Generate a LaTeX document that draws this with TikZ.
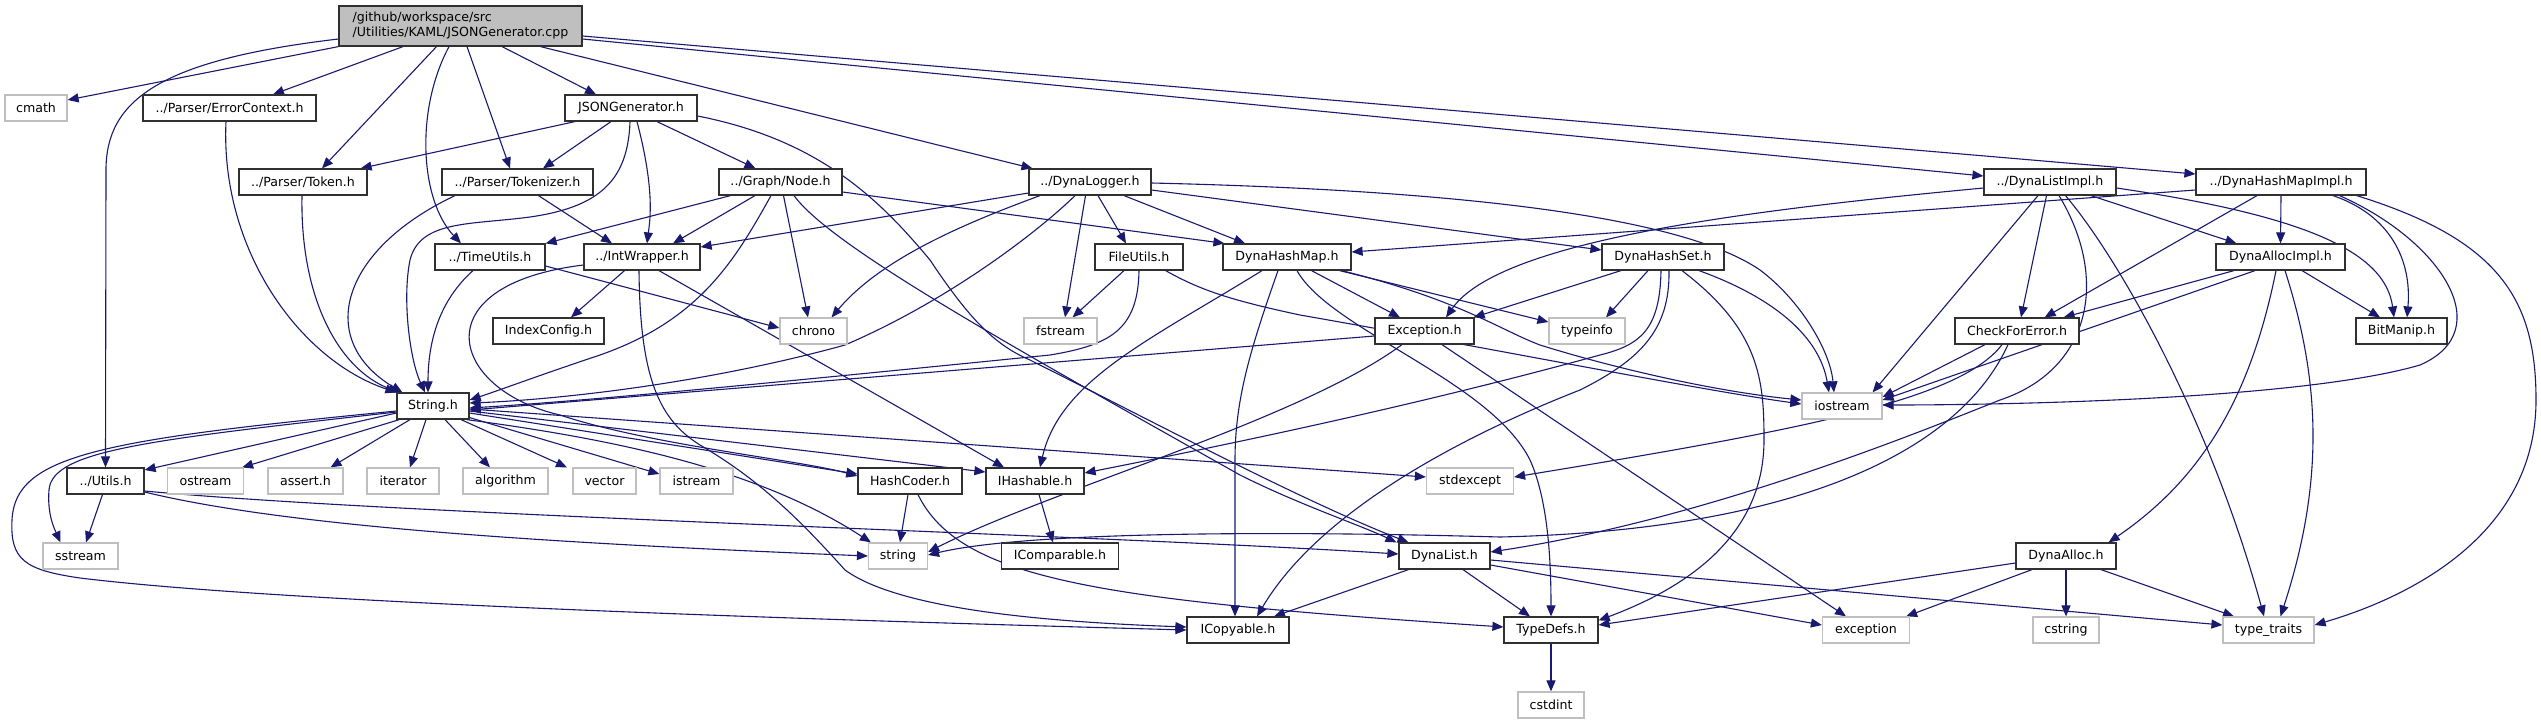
\documentclass[tikz,border=0pt]{standalone}
\usepackage{fontspec}
\setmainfont{DejaVu Sans}
\usetikzlibrary{calc,arrows.meta}
\definecolor{edgec}{RGB}{25,25,112}
\definecolor{sysc}{RGB}{191,191,191}
\definecolor{nodec}{RGB}{48,48,48}
\definecolor{rootc}{RGB}{191,191,191}
\newcommand{\fsz}{\fontsize{12.6}{15}\selectfont}
\pgfdeclarelayer{bglayer}
\pgfdeclarelayer{edgelayer}
\pgfsetlayers{bglayer,edgelayer,main}
\tikzset{
  box/.style={draw=nodec, line width=1.2pt, fill=white, minimum height=26pt, inner sep=0pt, font=\fsz, text=black},
  sys/.style={box, draw=sysc},
  e/.style={draw=edgec, line width=1.1pt, -{Triangle[length=11pt,width=9pt]}}
}
\begin{document}
\begin{tikzpicture}[x=1pt,y=-1pt]
\begin{pgfonlayer}{bglayer}
\path[use as bounding box, fill=white] (0,0) rectangle (2541,724);
\end{pgfonlayer}
% nodes
\node[box, fill=rootc, minimum width=243pt, minimum height=40pt, align=left] (root) at (460.5,26) {/github/workspace/src\\/Utilities/KAML/JSONGenerator.cpp};
\node[sys, minimum width=62pt] (cmath) at (36,108) {cmath};
\node[box, minimum width=173pt] (errctx) at (229.5,108) {../Parser/ErrorContext.h};
\node[box, minimum width=132pt] (jsonh) at (631,108) {JSONGenerator.h};
\node[box, minimum width=128pt] (token) at (303,182) {../Parser/Token.h};
\node[box, minimum width=151pt] (tokenizer) at (517.5,182) {../Parser/Tokenizer.h};
\node[box, minimum width=123pt] (node) at (780.5,182) {../Graph/Node.h};
\node[box, minimum width=122pt] (logger) at (1090,182) {../DynaLogger.h};
\node[box, minimum width=132pt] (listimpl) at (2050,182) {../DynaListImpl.h};
\node[box, minimum width=170pt] (hmimpl) at (2281,182) {../DynaHashMapImpl.h};
\node[box, minimum width=110pt] (timeu) at (490,257) {../TimeUtils.h};
\node[box, minimum width=116pt] (intw) at (642,257) {../IntWrapper.h};
\node[box, minimum width=88pt] (fileu) at (1139,257) {FileUtils.h};
\node[box, minimum width=128pt] (hmap) at (1287,257) {DynaHashMap.h};
\node[box, minimum width=122pt] (hset) at (1663,257) {DynaHashSet.h};
\node[box, minimum width=129pt] (allocimpl) at (2280.5,257) {DynaAllocImpl.h};
\node[box, minimum width=111pt] (idxcfg) at (548.5,331) {IndexConfig.h};
\node[sys, minimum width=67pt] (chrono) at (813.5,331) {chrono};
\node[sys, minimum width=73pt] (fstream) at (1060.5,331) {fstream};
\node[box, minimum width=99pt] (exc) at (1424.5,331) {Exception.h};
\node[sys, minimum width=76pt] (typeinfo) at (1587,331) {typeinfo};
\node[box, minimum width=124pt] (cfe) at (2017,331) {CheckForError.h};
\node[box, minimum width=91pt] (bitm) at (2401.5,331) {BitManip.h};
\node[box, minimum width=72pt] (str) at (433,406) {String.h};
\node[sys, minimum width=80pt] (iostream) at (1842,406) {iostream};
\node[box, minimum width=77pt] (utils) at (105.5,481) {../Utils.h};
\node[sys, minimum width=76pt] (ostream) at (205.5,481) {ostream};
\node[sys, minimum width=75pt] (assert) at (305.5,481) {assert.h};
\node[sys, minimum width=72pt] (iterator) at (403,481) {iterator};
\node[sys, minimum width=85pt] (algorithm) at (505.5,481) {algorithm};
\node[sys, minimum width=63pt] (vector) at (604.5,481) {vector};
\node[sys, minimum width=73pt] (istream) at (696.5,481) {istream};
\node[box, minimum width=104pt] (hcoder) at (910,481) {HashCoder.h};
\node[box, minimum width=98pt] (ihash) at (1035,481) {IHashable.h};
\node[sys, minimum width=87pt] (stdexc) at (1470,481) {stdexcept};
\node[sys, minimum width=75pt] (sstream) at (80.5,556) {sstream};
\node[sys, minimum width=59pt] (string) at (898,556) {string};
\node[box, minimum width=117pt] (icomp) at (1060,556) {IComparable.h};
\node[box, minimum width=91pt] (dlist) at (1444.5,556) {DynaList.h};
\node[box, minimum width=100pt] (dalloc) at (2066,556) {DynaAlloc.h};
\node[box, minimum width=102pt] (icopy) at (1238,630) {ICopyable.h};
\node[box, minimum width=94pt] (tdefs) at (1551,630) {TypeDefs.h};
\node[sys, minimum width=87pt] (exception) at (1866,630) {exception};
\node[sys, minimum width=66pt] (cstring) at (2066,630) {cstring};
\node[sys, minimum width=91pt] (ttraits) at (2268.5,630) {type\_traits};
\node[sys, minimum width=66pt] (cstdint) at (1551,705) {cstdint};
\begin{pgfonlayer}{edgelayer}
% edges from root
\draw[e] (root.south west) -- ($(cmath.east)+(0,-8)$);
\draw[e] ($(root.west)+(0,13)$) .. controls (160,60) and (106,100) .. (106,170) -- (utils.north);
\draw[e] ($(root.south)+(-57.5,0)$) -- ($(errctx.north)+(43.5,0)$);
\draw[e] ($(root.south)+(-24,0)$) -- ($(token.north)+(19,0)$);
\draw[e] ($(root.south)+(-11.5,0)$) .. controls (415,110) and (420,200) .. ($(timeu.north)+(-29,0)$);
\draw[e] ($(root.south)+(6.5,0)$) -- ($(tokenizer.north)+(-7.5,0)$);
\draw[e] ($(root.south)+(41.5,0)$) -- ($(jsonh.north)+(-35,0)$);
\draw[e] ($(root.south)+(80,0)$) -- ($(logger.north)+(-57.5,0)$);
\draw[e] ($(root.east)+(0,13)$) -- ($(listimpl.west)+(0,-6)$);
\draw[e] ($(root.east)+(0,10)$) -- ($(hmimpl.west)+(0,-8)$);
% parser
\draw[e] ($(errctx.south)+(-3.5,0)$) .. controls (220,250) and (300,360) .. (str.north west);
\draw[e] ($(token.south)+(-1,0)$) .. controls (300,300) and (340,370) .. ($(str.north west)+(3,0)$);
\draw[e] ($(tokenizer.south)+(-62.5,0)$) .. controls (340,250) and (315,340) .. ($(str.north west)+(6,0)$);
\draw[e] ($(tokenizer.south)+(21,0)$) -- ($(intw.north)+(-30,0)$);
% JSONGenerator.h
\draw[e] ($(jsonh.south)+(-56,0)$) -- ($(token.north east)+(-7,0)$);
\draw[e] ($(jsonh.south)+(-20,0)$) -- ($(tokenizer.north)+(25.5,0)$);
\draw[e] ($(jsonh.south)+(-1,0)$) .. controls (628,180) and (600,207) .. (530,217) .. controls (470,225) and (420,220) .. (410,260) .. controls (402,300) and (410,360) .. ($(str.north)+(-8,0)$);
\draw[e] ($(jsonh.south)+(6,0)$) .. controls (655,190) and (650,220) .. ($(intw.north)+(5,0)$);
\draw[e] ($(jsonh.south)+(26,0)$) -- ($(node.north)+(-25,0)$);
\draw[e] ($(jsonh.east)+(0,8)$) .. controls (820,140) and (880,200) .. (930,260) .. controls (970,320) and (995,345) .. (1030,360) .. controls (1150,420) and (1300,500) .. ($(dlist.north)+(-36,0)$);
% Node.h
\draw[e] ($(node.south)+(-50,0)$) -- (timeu.north east);
\draw[e] ($(node.south)+(-25.5,0)$) -- ($(intw.north)+(31,0)$);
\draw[e] ($(node.south)+(-9.5,0)$) .. controls (735,260) and (700,320) .. (600,355) .. controls (540,375) and (500,390) .. ($(str.east)+(0,-6)$);
\draw[e] ($(node.south)+(3,0)$) -- ($(chrono.north)+(-5.5,0)$);
\draw[e] ($(node.south)+(13.5,0)$) .. controls (830,245) and (1000,340) .. (1240,475) .. controls (1300,505) and (1360,525) .. ($(dlist.north)+(-48,0)$);
\draw[e] ($(node.east)+(0,10)$) -- ($(hmap.north west)+(2,0)$);
% DynaLogger.h
\draw[e] ($(logger.west)+(0,11)$) -- ($(intw.east)+(0,-10)$);
\draw[e] ($(logger.south)+(-15,0)$) .. controls (1040,230) and (950,300) .. (845,345) .. controls (700,385) and (550,400) .. ($(str.east)+(0,-3)$);
\draw[e] ($(logger.south)+(-50,0)$) .. controls (960,225) and (880,260) .. ($(chrono.north)+(18,0)$);
\draw[e] ($(logger.south)+(-4.5,0)$) -- ($(fstream.north)+(4.5,0)$);
\draw[e] ($(logger.south)+(8,0)$) -- ($(fileu.north)+(-13,0)$);
\draw[e] ($(logger.south)+(34,0)$) -- ($(hmap.north)+(-42,0)$);
\draw[e] ($(logger.east)+(0,8)$) -- ($(hset.west)+(0,-7)$);
\draw[e] ($(logger.east)+(0,1)$) .. controls (1450,190) and (1680,215) .. (1760,270) .. controls (1800,300) and (1830,350) .. ($(iostream.north)+(-8,0)$);
% FileUtils.h
\draw[e] ($(fileu.south)+(-15,0)$) -- ($(fstream.north)+(12,0)$);
\draw[e] (fileu.south) .. controls (1138,330) and (1110,345) .. (1050,355) .. controls (800,380) and (600,400) .. ($(str.east)+(0,2)$);
\draw[e] ($(fileu.south east)+(-18,0)$) .. controls (1200,290) and (1230,300) .. (1300,315) .. controls (1500,350) and (1700,390) .. ($(iostream.west)+(0,-2)$);
% DynaHashMap.h
\draw[e] ($(hmap.south)+(-25,0)$) .. controls (1150,340) and (1060,380) .. ($(ihash.north)+(5,0)$);
\draw[e] ($(hmap.south)+(-9,0)$) .. controls (1250,350) and (1235,400) .. (1235,460) -- ($(icopy.north)+(-3,0)$);
\draw[e] ($(hmap.south)+(10,0)$) .. controls (1330,330) and (1490,380) .. (1530,460) .. controls (1548,500) and (1551,560) .. (tdefs.north);
\draw[e] ($(hmap.south)+(24.5,0)$) -- ($(exc.north)+(-24.5,0)$);
\draw[e] ($(hmap.south east)+(-12,0)$) -- ($(typeinfo.west)+(0,-9)$);
\draw[e] ($(hmap.south east)+(-10,0)$) .. controls (1460,300) and (1500,330) .. (1540,345) .. controls (1620,370) and (1720,392) .. ($(iostream.west)+(0,-6)$);
% DynaHashSet.h
\draw[e] ($(hset.south)+(-42,0)$) -- ($(exc.north east)+(-1,0)$);
\draw[e] ($(hset.south)+(-15,0)$) -- ($(typeinfo.north)+(19,0)$);
\draw[e] ($(hset.south)+(-2,0)$) .. controls (1660,330) and (1640,345) .. (1600,355) .. controls (1400,410) and (1200,450) .. ($(ihash.east)+(0,-8)$);
\draw[e] ($(hset.south)+(6,0)$) .. controls (1670,330) and (1640,360) .. (1580,390) .. controls (1465,435) and (1320,510) .. ($(icopy.north)+(19,0)$);
\draw[e] ($(hset.south)+(19,0)$) .. controls (1760,330) and (1764,380) .. (1764,440) .. controls (1764,540) and (1680,590) .. ($(tdefs.north east)+(0,4)$);
\draw[e] ($(hset.south)+(36,0)$) .. controls (1780,300) and (1820,340) .. ($(iostream.north)+(-13,0)$);
% Exception.h
\draw[e] ($(exc.west)+(0,5)$) -- ($(str.east)+(0,4)$);
\draw[e] ($(exc.south)+(-22.5,0)$) .. controls (1300,420) and (1050,490) .. ($(string.east)+(0,-4)$);
\draw[e] ($(exc.south)+(17.5,0)$) -- ($(exception.north)+(-20,0)$);
% DynaListImpl.h
\draw[e] ($(listimpl.west)+(0,6)$) .. controls (1750,210) and (1500,240) .. ($(exc.north)+(21.5,0)$);
\draw[e] ($(listimpl.south)+(-12,0)$) -- ($(iostream.north east)+(-10,0)$);
\draw[e] ($(listimpl.south)+(-3.5,0)$) -- ($(cfe.north)+(4,0)$);
\draw[e] ($(listimpl.south)+(9,0)$) .. controls (2110,280) and (2090,370) .. (2000,400) .. controls (1900,440) and (1700,520) .. ($(dlist.east)+(0,-4)$);
\draw[e] ($(listimpl.south)+(15.5,0)$) .. controls (2120,260) and (2210,420) .. ($(ttraits.north)+(-4.5,0)$);
\draw[e] ($(listimpl.south)+(41,0)$) -- ($(allocimpl.north)+(-44,0)$);
\draw[e] ($(listimpl.east)+(0,6)$) .. controls (2300,215) and (2385,250) .. ($(bitm.north)+(-7.5,0)$);
% DynaHashMapImpl.h
\draw[e] ($(hmimpl.west)+(0,8)$) -- ($(hmap.east)+(0,-5)$);
\draw[e] ($(hmimpl.south)+(-24,0)$) -- ($(cfe.north east)+(-35,0)$);
\draw[e] (hmimpl.south) -- (allocimpl.north);
\draw[e] ($(hmimpl.south)+(52,0)$) .. controls (2390,215) and (2412,260) .. ($(bitm.north)+(5.5,0)$);
\draw[e] ($(hmimpl.south)+(58.5,0)$) .. controls (2440,240) and (2500,330) .. (2420,365) .. controls (2300,400) and (2000,405) .. ($(iostream.east)+(0,-1)$);
\draw[e] ($(hmimpl.south east)+(-10,0)$) .. controls (2500,240) and (2536,300) .. (2536,400) .. controls (2536,540) and (2400,600) .. ($(ttraits.east)+(0,-5)$);
% DynaAllocImpl.h
\draw[e] ($(allocimpl.south)+(-46.5,0)$) -- ($(cfe.north east)+(-16,0)$);
\draw[e] ($(allocimpl.south)+(-25.5,0)$) -- ($(iostream.east)+(0,-6)$);
\draw[e] ($(allocimpl.south)+(-4.5,0)$) .. controls (2250,400) and (2200,480) .. ($(dalloc.north east)+(-8,0)$);
\draw[e] ($(allocimpl.south)+(4.5,0)$) .. controls (2320,380) and (2325,480) .. ($(ttraits.north)+(12,0)$);
\draw[e] ($(allocimpl.south)+(21.5,0)$) -- ($(bitm.north)+(-21.5,0)$);
% CheckForError.h
\draw[e] ($(cfe.south)+(-32,0)$) -- ($(iostream.east)+(0,-9)$);
\draw[e] ($(cfe.south)+(-15,0)$) .. controls (1960,400) and (1800,430) .. ($(stdexc.east)+(0,-4)$);
\draw[e] ($(cfe.south)+(-9,0)$) .. controls (1960,450) and (1800,530) .. (1500,537) .. controls (1250,530) and (1020,533) .. ($(string.east)+(0,-1)$);
% DynaAlloc.h
\draw[e] ($(dalloc.south)+(-34,0)$) -- ($(exception.north east)+(-4,0)$);
\draw[e] (dalloc.south) -- (cstring.north);
\draw[e] ($(dalloc.south)+(35,0)$) -- ($(ttraits.north)+(-34.5,0)$);
\draw[e] ($(dalloc.west)+(0,7)$) -- ($(tdefs.east)+(0,-5)$);
% DynaList.h
\draw[e] ($(dlist.south)+(-36,0)$) -- ($(icopy.north)+(36,0)$);
\draw[e] ($(dlist.south)+(18.5,0)$) -- ($(tdefs.north)+(-21,0)$);
\draw[e] ($(dlist.east)+(0,9)$) -- ($(exception.west)+(0,-5)$);
\draw[e] ($(dlist.east)+(0,4)$) -- ($(ttraits.west)+(0,-5)$);
\draw[e] (tdefs.south) -- (cstdint.north);
% String.h
\draw[e] ($(str.west)+(0,7)$) -- ($(utils.east)+(0,-11)$);
\draw[e] ($(str.south west)+(3,0)$) -- ($(ostream.north east)+(-2,0)$);
\draw[e] ($(str.south)+(-23,0)$) -- ($(assert.north)+(25,0)$);
\draw[e] ($(str.south)+(-7,0)$) -- ($(iterator.north)+(7,0)$);
\draw[e] ($(str.south)+(12,0)$) -- ($(algorithm.north)+(-15.5,0)$);
\draw[e] ($(str.south)+(28,0)$) -- ($(vector.north)+(-37.5,0)$);
\draw[e] ($(str.south east)+(0,-2)$) -- ($(istream.west)+(0,-7)$);
\draw[e] ($(str.east)+(0,7)$) -- ($(hcoder.west)+(0,-7)$);
\draw[e] ($(str.east)+(0,5)$) -- ($(ihash.west)+(0,-9)$);
\draw[e] ($(str.east)+(0,3)$) -- ($(stdexc.west)+(0,-4)$);
\draw[e] ($(str.south east)+(-3,0)$) .. controls (620,440) and (760,470) .. ($(string.north west)+(3,0)$);
\draw[e] ($(str.west)+(0,6)$) .. controls (150,440) and (52,450) .. (49,490) .. controls (47,515) and (55,530) .. ($(sstream.north)+(-20,0)$);
\draw[e] ($(str.west)+(0,5)$) .. controls (100,440) and (15,455) .. (12,520) .. controls (10,560) and (25,570) .. (80,578) .. controls (300,605) and (900,622) .. (icopy.west);
% Utils.h
\draw[e] ($(utils.south)+(-3,0)$) -- ($(sstream.north)+(5.5,0)$);
\draw[e] ($(utils.east)+(0,11)$) .. controls (300,530) and (600,545) .. (string.west);
\draw[e] ($(utils.east)+(0,10)$) .. controls (400,515) and (1100,535) .. ($(dlist.west)+(0,-2)$);
% TimeUtils.h
\draw[e] ($(timeu.south)+(-17,0)$) .. controls (440,300) and (428,340) .. ($(str.north)+(-5,0)$);
\draw[e] ($(timeu.east)+(0,9)$) -- ($(chrono.west)+(0,-3)$);
% IntWrapper.h
\draw[e] ($(intw.south)+(-17.5,0)$) -- ($(idxcfg.north)+(22.5,0)$);
\draw[e] ($(intw.south)+(-3,0)$) .. controls (640,380) and (660,420) .. (700,445) .. controls (760,480) and (800,520) .. (845,570) .. controls (900,610) and (1050,622) .. ($(icopy.west)+(0,-3)$);
\draw[e] ($(intw.south)+(17,0)$) -- ($(ihash.north)+(-31,0)$);
\draw[e] ($(intw.west)+(0,8)$) .. controls (420,285) and (450,390) .. (560,415) .. controls (650,445) and (800,460) .. ($(hcoder.west)+(0,-5)$);
% HashCoder, IHashable
\draw[e] ($(hcoder.south)+(-2,0)$) -- ($(string.north)+(2,0)$);
\draw[e] ($(hcoder.south)+(8,0)$) .. controls (960,580) and (1100,600) .. ($(tdefs.west)+(0,-3)$);
\draw[e] ($(ihash.south)+(4,0)$) -- ($(icomp.north)+(-7,0)$);
\end{pgfonlayer}
\end{tikzpicture}
\end{document}
